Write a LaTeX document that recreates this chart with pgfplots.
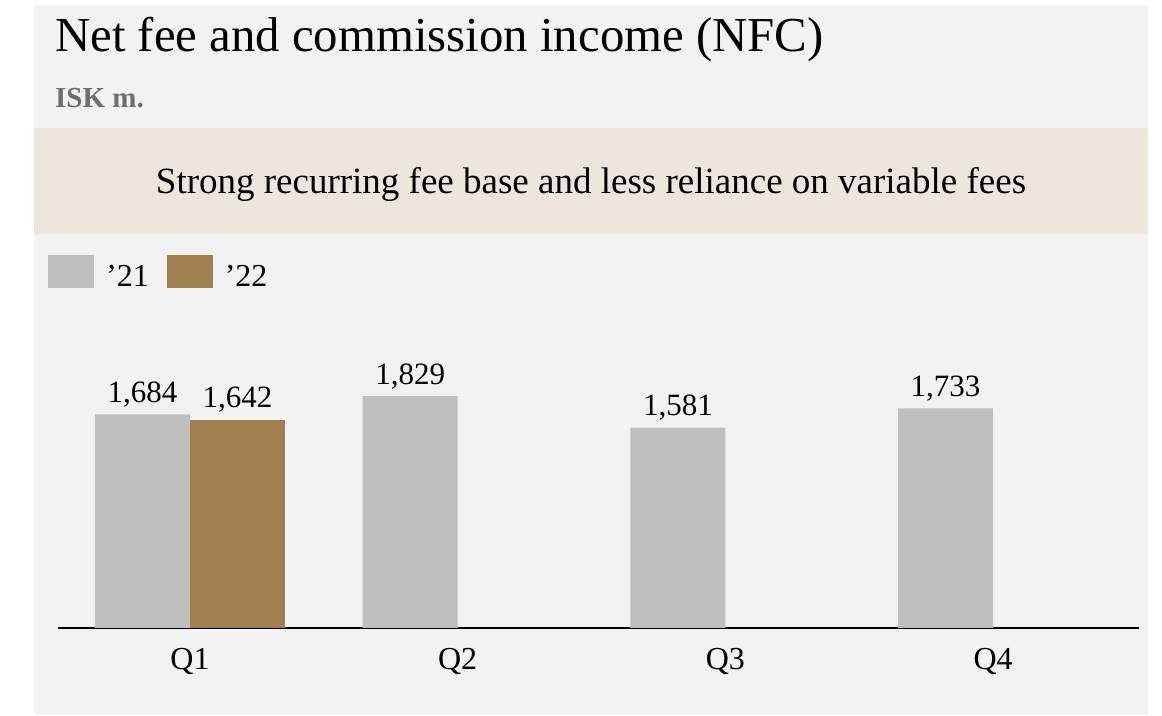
\documentclass[border=0pt]{standalone}
\usepackage{fontspec}
\setmainfont{Liberation Serif}
\usepackage{pgfplots}
\pgfplotsset{compat=1.18}
\definecolor{bgc}{HTML}{F2F2F2}
\definecolor{banner}{HTML}{EDE6DD}
\definecolor{g21}{HTML}{BFBFBF}
\definecolor{b22}{HTML}{A0804F}
\definecolor{subg}{HTML}{6E6E6E}
\begin{document}
\begin{tikzpicture}[x=1pt,y=1pt]
\fill[white] (0,0) rectangle (1162,715);
\fill[bgc] (34,0) rectangle (1148,710);
\fill[banner] (34,481) rectangle (1148,587);
\node[anchor=base west,inner sep=0pt,font=\fontsize{48.8}{52}\selectfont] at (55,663) {Net fee and commission income (NFC)};
\node[anchor=base west,inner sep=0pt,text=subg,font=\fontsize{29}{32}\selectfont\bfseries] at (55,607) {ISK m.};
\node[anchor=base,inner sep=0pt,font=\fontsize{37}{40}\selectfont] at (591,521) {Strong recurring fee base and less reliance on variable fees};
\begin{axis}[
  at={(58pt,87pt)}, anchor=south west,
  scale only axis, width=1081pt, height=317pt,
  xmin=-0.493, xmax=3.545, ymin=0, ymax=2500,
  ybar, bar width=95pt,
  axis x line=bottom, axis y line=none,
  x axis line style={-, line width=1.6pt, black},
  xtick={0,1,2,3}, xticklabels={Q1,Q2,Q3,Q4},
  major tick length=0pt,
  xticklabel style={font=\fontsize{32}{32}\selectfont, inner sep=0pt, yshift=-20pt},
  clip=false,
  nodes near coords,
  every node near coord/.append style={font=\fontsize{31}{31}\selectfont, inner sep=0pt, yshift=7pt, text=black},
  /pgf/number format/.cd, fixed, precision=0, 1000 sep={,}, assume math mode=true, /pgfplots/.cd,
  legend image code/.code={\fill[#1] (0pt,-11.5pt) rectangle (46pt,21.5pt); \path (56pt,0pt);},
  legend style={at={(axis description cs:-0.0093,1.177)}, anchor=north west, draw=none, fill=none, inner sep=0pt,
    font=\fontsize{32}{32}\selectfont, legend columns=2,
    /tikz/every even column/.append style={column sep=16pt}},
]
\addplot[fill=g21, draw=none, bar shift=-47.5pt] coordinates {(0,1684) (1,1829) (2,1581) (3,1733)};
\addplot[fill=b22, draw=none, bar shift=47.5pt] coordinates {(0,1642)};
\legend{'21,'22}
\end{axis}
\end{tikzpicture}
\end{document}
